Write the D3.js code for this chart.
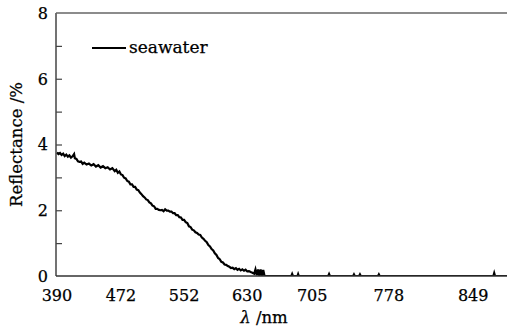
<!DOCTYPE html>
<html>
<head>
<meta charset="utf-8">
<script src="https://cdn.jsdelivr.net/npm/d3@7"></script>
<style>
  body { margin: 0; background: #fff; }
  svg text { font-family: "DejaVu Serif", "Liberation Serif", serif; fill: #000; stroke: #000; stroke-width: 0.25px; }
</style>
</head>
<body>
<div id="chart"></div>
<script>
// wavelength axis (non-uniform spacing) - tick labels and where they sit along the plot width
const xTickValues = [390, 472, 552, 630, 705, 778, 849];
const xTickFrac = [0.002, 0.144, 0.284, 0.424, 0.568, 0.738, 0.925];
const yTickValues = [0, 2, 4, 6, 8];
const yMinorTicks = [1, 3, 5, 7];

// seawater reflectance spectrum
const wavelengths = [
    390, 392, 394, 396, 398, 400, 402, 404, 406, 408, 410, 412, 413, 415, 417, 419, 421, 423, 425, 428,
    431, 434, 437, 440, 443, 446, 449, 452, 455, 458, 461, 464, 466, 468, 470, 472, 474, 476, 478, 480,
    482, 484, 486, 488, 490, 492, 494, 496, 498, 500, 502, 504, 506, 508, 510, 512, 514, 516, 518, 520,
    522, 524, 526, 528, 530, 532, 534, 536, 538, 540, 542, 544, 546, 548, 550, 552, 554, 556, 558, 560,
    562, 564, 566, 568, 570, 572, 574, 576, 578, 580, 582, 584, 586, 588, 590, 592, 594, 596, 598, 600,
    602, 604, 606, 608, 610, 612, 614, 616, 618, 620, 622, 624, 626, 628, 630, 632, 634, 636, 638, 639.5,
    641, 642.5, 644, 645.5, 647, 648.5, 650,
    681, 681.9, 682.8, 688, 688.8, 689.6, 720.3, 721.1, 721.9, 744, 744.8, 745.6, 749.7, 750.5, 751.3,
    767.7, 768.5, 769.3, 866, 866.7, 867.4, 880
];
const reflectance = [
    3.76, 3.71, 3.74, 3.68, 3.72, 3.65, 3.69, 3.63, 3.67, 3.60, 3.64, 3.71, 3.58, 3.56, 3.49, 3.47, 3.48, 3.41, 3.45, 3.39,
    3.42, 3.36, 3.40, 3.33, 3.37, 3.30, 3.34, 3.28, 3.31, 3.24, 3.28, 3.19, 3.23, 3.14, 3.18, 3.09, 3.07, 2.99, 2.97, 2.89,
    2.87, 2.79, 2.79, 2.71, 2.71, 2.63, 2.61, 2.54, 2.49, 2.43, 2.39, 2.33, 2.31, 2.24, 2.21, 2.14, 2.12, 2.04, 2.04, 2.01,
    2.00, 2.01, 1.97, 2.03, 1.99, 1.99, 1.96, 1.96, 1.91, 1.91, 1.85, 1.85, 1.79, 1.78, 1.71, 1.71, 1.64, 1.61, 1.51, 1.49,
    1.41, 1.39, 1.33, 1.31, 1.26, 1.25, 1.17, 1.13, 1.07, 1.03, 0.94, 0.90, 0.82, 0.78, 0.69, 0.64, 0.55, 0.51, 0.43, 0.41,
    0.35, 0.34, 0.30, 0.28, 0.24, 0.25, 0.21, 0.24, 0.19, 0.22, 0.17, 0.20, 0.16, 0.19, 0.14, 0.15, 0.12, 0.10, 0.07, 0.20,
    0.02, 0.20, 0.00, 0.20, 0.00, 0.18, 0.00,
    0, 0.06, 0, 0, 0.06, 0, 0, 0.06, 0, 0, 0.05, 0, 0, 0.05, 0,
    0, 0.05, 0, 0, 0.09, 0, 0
];

const width = 507;
const height = 328;
const margin = { top: 13, right: 0, bottom: 52, left: 56 };
const plotW = width - margin.left - margin.right;

const svg = d3.select("#chart").append("svg")
    .attr("width", width)
    .attr("height", height);

const x = d3.scaleLinear()
    .domain(xTickValues)
    .range(xTickFrac.map(f => margin.left + f * plotW));

const y = d3.scaleLinear()
    .domain([0, 8])
    .range([height - margin.bottom, margin.top]);

const points = wavelengths.map((w, i) => ({ w, r: reflectance[i] }));

const line = d3.line()
    .x(d => x(d.w))
    .y(d => y(d.r));

svg.append("defs").append("clipPath")
    .attr("id", "clip")
    .append("rect")
    .attr("x", margin.left)
    .attr("y", margin.top)
    .attr("width", plotW)
    .attr("height", height - margin.bottom - margin.top);

svg.append("path")
    .datum(points)
    .attr("clip-path", "url(#clip)")
    .attr("fill", "none")
    .attr("stroke", "#000")
    .attr("stroke-width", 2.2)
    .attr("stroke-linejoin", "miter")
    .attr("d", line);

// y axis: labels outside, ticks pointing inward
const yAxis = svg.append("g")
    .attr("transform", `translate(${margin.left},0)`)
    .call(d3.axisRight(y).tickValues(yMinorTicks.concat(yTickValues.slice(1, -1))).tickSize(6).tickFormat(""));
yAxis.select(".domain").remove();
yAxis.selectAll("line").attr("stroke", "#444").attr("stroke-width", 1.2);

svg.append("g")
    .selectAll("text")
    .data(yTickValues)
    .join("text")
    .attr("x", margin.left - 8)
    .attr("y", d => y(d))
    .attr("dy", "0.36em")
    .attr("text-anchor", "end")
    .style("font-size", "16px")
    .text(d => d);

// x tick labels, no tick marks
svg.append("g")
    .selectAll("text")
    .data(xTickValues)
    .join("text")
    .attr("x", d => x(d))
    .attr("y", height - margin.bottom + 25)
    .attr("text-anchor", "middle")
    .style("font-size", "16px")
    .text(d => d);

// frame lines (left, bottom, top)
svg.append("line")
    .attr("x1", margin.left).attr("x2", margin.left)
    .attr("y1", margin.top).attr("y2", height - margin.bottom)
    .attr("stroke", "#444").attr("stroke-width", 1.5);
svg.append("line")
    .attr("x1", margin.left).attr("x2", width)
    .attr("y1", height - margin.bottom).attr("y2", height - margin.bottom)
    .attr("stroke", "#333").attr("stroke-width", 1.5);
svg.append("line")
    .attr("x1", margin.left).attr("x2", width)
    .attr("y1", margin.top).attr("y2", margin.top)
    .attr("stroke", "#666").attr("stroke-width", 1.5);

// axis titles
svg.append("text")
    .attr("transform", `translate(22,${(margin.top + height - margin.bottom) / 2}) rotate(-90)`)
    .attr("text-anchor", "middle")
    .style("font-size", "16.5px")
    .text("Reflectance /%");

const xt = svg.append("text")
    .attr("x", 264)
    .attr("y", height - 5)
    .attr("text-anchor", "middle")
    .style("font-size", "16.5px");
xt.append("tspan").style("font-style", "italic").text("λ");
xt.append("tspan").text(" /nm");

// legend
const legend = svg.append("g").attr("transform", "translate(92,48)");
legend.append("line")
    .attr("x1", 0).attr("x2", 34)
    .attr("y1", 0).attr("y2", 0)
    .attr("stroke", "#000").attr("stroke-width", 1.8);
legend.append("text")
    .attr("x", 37)
    .attr("y", 5)
    .style("font-size", "17px")
    .text("seawater");
</script>
</body>
</html>
